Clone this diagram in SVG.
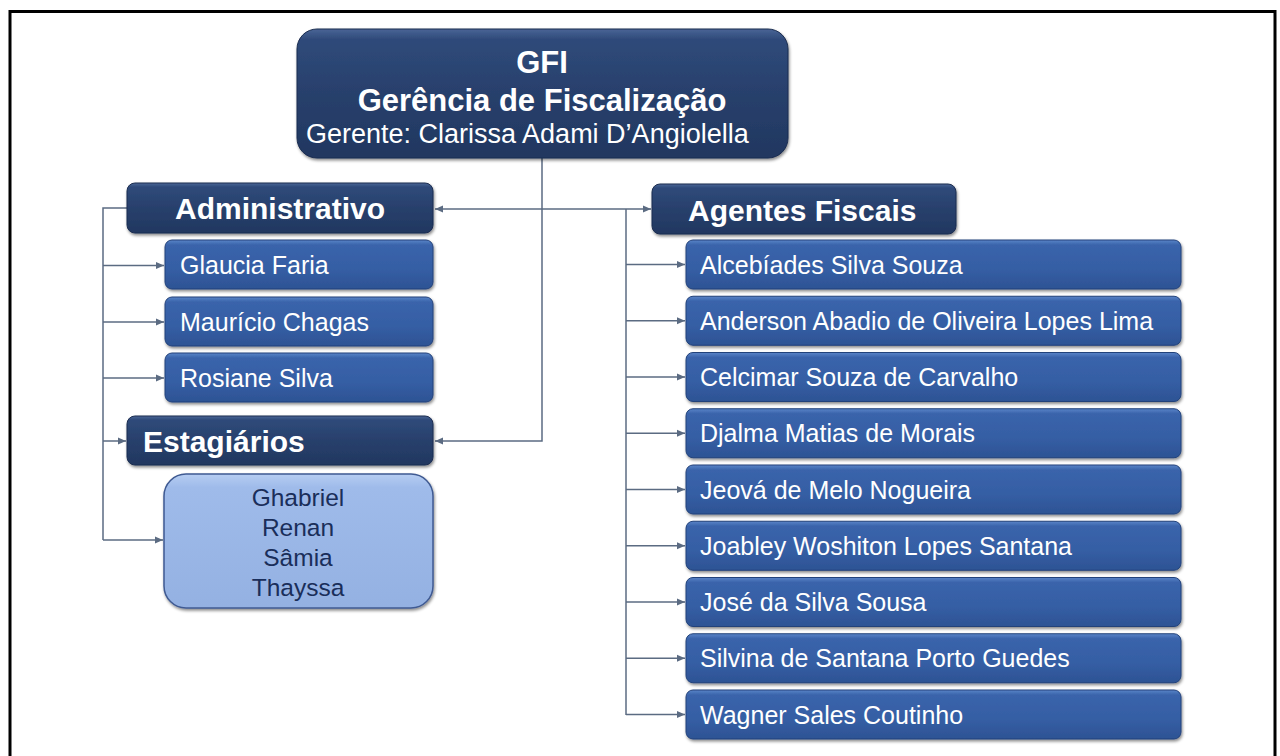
<svg xmlns="http://www.w3.org/2000/svg" width="1280" height="756" viewBox="0 0 1280 756">
<defs>
<linearGradient id="gDark" x1="0" y1="0" x2="0" y2="1">
<stop offset="0" stop-color="#4a6596"/>
<stop offset="0.08" stop-color="#2f4a7a"/>
<stop offset="0.5" stop-color="#28406c"/>
<stop offset="1" stop-color="#213760"/>
</linearGradient>
<linearGradient id="gMid" x1="0" y1="0" x2="0" y2="1">
<stop offset="0" stop-color="#5a84c8"/>
<stop offset="0.1" stop-color="#3a64ab"/>
<stop offset="0.6" stop-color="#355ea4"/>
<stop offset="1" stop-color="#2d5394"/>
</linearGradient>
<linearGradient id="gLight" x1="0" y1="0" x2="0" y2="1">
<stop offset="0" stop-color="#b6cdf2"/>
<stop offset="0.1" stop-color="#9fbbea"/>
<stop offset="1" stop-color="#94b1e2"/>
</linearGradient>
<filter id="sh" x="-10%" y="-20%" width="120%" height="150%">
<feDropShadow dx="1" dy="2" stdDeviation="1.5" flood-color="#000" flood-opacity="0.45"/>
</filter>
<marker id="ar" viewBox="0 0 8 8" refX="8" refY="4" markerWidth="8" markerHeight="8" markerUnits="userSpaceOnUse" orient="auto">
<path d="M0,0.5 L8,4 L0,7.5 z" fill="#5b6b82"/>
</marker>
<style>
.dark{fill:url(#gDark);stroke:#1b2d50;stroke-width:1;filter:url(#sh)}
.mid{fill:url(#gMid);stroke:#23427a;stroke-width:1;filter:url(#sh)}
.light{fill:url(#gLight);stroke:#3f5a92;stroke-width:1.5;filter:url(#sh)}
.hd{font-family:"Liberation Sans",Arial,sans-serif;font-weight:bold;font-size:30px;fill:#ffffff}
.nm{font-family:"Liberation Sans",Arial,sans-serif;font-size:25px;fill:#ffffff}
.ag{font-family:"Liberation Sans",Arial,sans-serif;font-size:25px;fill:#ffffff}
.es{font-family:"Liberation Sans",Arial,sans-serif;font-size:24.5px;fill:#1a2e5a;text-anchor:middle}
.cn{fill:none;stroke:#5b6b82;stroke-width:1.5}
</style>
</defs>
<rect x="0" y="0" width="1280" height="756" fill="#ffffff"/>
<path d="M10,756 V11.5 H1275 V756" fill="none" stroke="#000" stroke-width="3"/>

<g id="connectors">
<path class="cn" d="M542,158 V441 H435" marker-end="url(#ar)"/>
<path class="cn" d="M542,209 H435" marker-end="url(#ar)"/>
<path class="cn" d="M542,209 H651" marker-end="url(#ar)"/>
<path class="cn" d="M626,209 V715"/>
<path class="cn" d="M626,264.5 H685" marker-end="url(#ar)"/>
<path class="cn" d="M626,320.75 H685" marker-end="url(#ar)"/>
<path class="cn" d="M626,377 H685" marker-end="url(#ar)"/>
<path class="cn" d="M626,433.25 H685" marker-end="url(#ar)"/>
<path class="cn" d="M626,489.5 H685" marker-end="url(#ar)"/>
<path class="cn" d="M626,545.75 H685" marker-end="url(#ar)"/>
<path class="cn" d="M626,602 H685" marker-end="url(#ar)"/>
<path class="cn" d="M626,658.25 H685" marker-end="url(#ar)"/>
<path class="cn" d="M626,714.5 H685" marker-end="url(#ar)"/>
<path class="cn" d="M127,208 H103 V540"/>
<path class="cn" d="M103,265.5 H164" marker-end="url(#ar)"/>
<path class="cn" d="M103,322 H164" marker-end="url(#ar)"/>
<path class="cn" d="M103,378 H164" marker-end="url(#ar)"/>
<path class="cn" d="M103,441 H126" marker-end="url(#ar)"/>
<path class="cn" d="M103,540 H163" marker-end="url(#ar)"/>
</g>

<g id="gfi">
<rect class="dark" x="297" y="29" width="491" height="129" rx="20"/>
<text x="542" y="73" text-anchor="middle" font-family="Liberation Sans, Arial, sans-serif" font-weight="bold" font-size="31" fill="#fff">GFI</text>
<text x="542" y="111" text-anchor="middle" font-family="Liberation Sans, Arial, sans-serif" font-weight="bold" font-size="31" fill="#fff">Gerência de Fiscalização</text>
<text x="306" y="143" font-family="Liberation Sans, Arial, sans-serif" font-size="27" fill="#fff">Gerente: Clarissa Adami D’Angiolella</text>
</g>

<g id="administrativo">
<rect class="dark" x="127" y="183" width="306" height="50" rx="8"/>
<text class="hd" x="280" y="219" text-anchor="middle">Administrativo</text>
</g>
<g id="glaucia">
<rect class="mid" x="165" y="240" width="268" height="49" rx="7"/>
<text class="nm" x="180" y="274">Glaucia Faria</text>
</g>
<g id="mauricio">
<rect class="mid" x="165" y="297" width="268" height="49" rx="7"/>
<text class="nm" x="180" y="331">Maurício Chagas</text>
</g>
<g id="rosiane">
<rect class="mid" x="165" y="353" width="268" height="49" rx="7"/>
<text class="nm" x="180" y="387">Rosiane Silva</text>
</g>
<g id="estagiarios">
<rect class="dark" x="127" y="416" width="306" height="49" rx="8"/>
<text class="hd" x="143" y="452">Estagiários</text>
</g>
<g id="estagiarios-nomes">
<rect class="light" x="164" y="474" width="269" height="134" rx="22"/>
<text class="es" x="298" y="506">Ghabriel</text>
<text class="es" x="298" y="536">Renan</text>
<text class="es" x="298" y="566">Sâmia</text>
<text class="es" x="298" y="596">Thayssa</text>
</g>

<g id="agentes">
<rect class="dark" x="652" y="184" width="304" height="50" rx="8"/>
<text class="hd" x="688" y="221">Agentes Fiscais</text>
</g>
<g id="ag1"><rect class="mid" x="686" y="240" width="495" height="49" rx="7"/><text class="ag" x="700" y="273.5">Alcebíades Silva Souza</text></g>
<g id="ag2"><rect class="mid" x="686" y="296.25" width="495" height="49" rx="7"/><text class="ag" x="700" y="329.75">Anderson Abadio de Oliveira Lopes Lima</text></g>
<g id="ag3"><rect class="mid" x="686" y="352.5" width="495" height="49" rx="7"/><text class="ag" x="700" y="386">Celcimar Souza de Carvalho</text></g>
<g id="ag4"><rect class="mid" x="686" y="408.75" width="495" height="49" rx="7"/><text class="ag" x="700" y="442.25">Djalma Matias de Morais</text></g>
<g id="ag5"><rect class="mid" x="686" y="465" width="495" height="49" rx="7"/><text class="ag" x="700" y="498.5">Jeová de Melo Nogueira</text></g>
<g id="ag6"><rect class="mid" x="686" y="521.25" width="495" height="49" rx="7"/><text class="ag" x="700" y="554.75">Joabley Woshiton Lopes Santana</text></g>
<g id="ag7"><rect class="mid" x="686" y="577.5" width="495" height="49" rx="7"/><text class="ag" x="700" y="611">José da Silva Sousa</text></g>
<g id="ag8"><rect class="mid" x="686" y="633.75" width="495" height="49" rx="7"/><text class="ag" x="700" y="667.25">Silvina de Santana Porto Guedes</text></g>
<g id="ag9"><rect class="mid" x="686" y="690" width="495" height="49" rx="7"/><text class="ag" x="700" y="723.5">Wagner Sales Coutinho</text></g>
</svg>
